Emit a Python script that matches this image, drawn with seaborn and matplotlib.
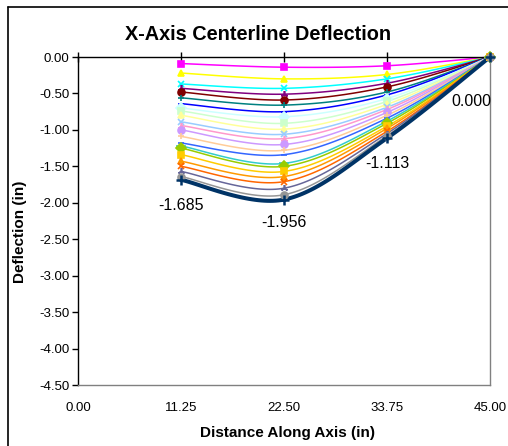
import numpy as np
import pandas as pd
import matplotlib
matplotlib.use("Agg")
import matplotlib.pyplot as plt
import seaborn as sns
from matplotlib.lines import Line2D

sns.set_style("white")
plt.rcParams["font.family"] = ["Liberation Sans", "DejaVu Sans"]
plt.rcParams["text.color"] = "black"

# stations along the axis (in)
stations = [11.25, 22.50, 33.75, 45.00]

# deflection at each station, one entry per load step (top to bottom)
defl_1125 = [-0.09, -0.22, -0.37, -0.43, -0.48, -0.56, -0.64, -0.70, -0.74, -0.80, -0.89, -0.94,
             -1.00, -1.09, -1.18, -1.22, -1.25, -1.34, -1.43, -1.50, -1.57, -1.64, -1.685]
defl_2250 = [-0.14, -0.30, -0.43, -0.51, -0.59, -0.66, -0.75, -0.82, -0.91, -0.99, -1.06, -1.12,
             -1.20, -1.28, -1.34, -1.46, -1.50, -1.57, -1.64, -1.71, -1.80, -1.89, -1.956]
defl_3375 = [-0.12, -0.24, -0.30, -0.36, -0.41, -0.48, -0.52, -0.57, -0.61, -0.65, -0.69, -0.72,
             -0.76, -0.80, -0.84, -0.88, -0.91, -0.95, -0.98, -1.02, -1.05, -1.08, -1.113]
defl_4500 = [0.0, 0.0, 0.0, 0.0, 0.0, 0.0, 0.0, 0.0, 0.0, 0.0, 0.0, 0.0,
             0.0, 0.0, 0.0, 0.0, 0.0, 0.0, 0.0, 0.0, 0.0, 0.0, 0.0]

series_colors = ["#FF00FF", "#FFFF00", "#00FFFF", "#800080", "#800000", "#008080", "#0000FF",
                 "#CCFFFF", "#CCFFCC", "#FFFF99", "#99CCFF", "#FF99CC", "#CC99FF", "#FFCC99",
                 "#3366FF", "#33CCCC", "#99CC00", "#FFCC00", "#FF9900", "#FF6600", "#666699",
                 "#969696", "#003366"]
star = (3, 2, 0)
series_markers = ["s", "^", "x", star, "o", "+", "_",
                  "D", "s", "^", "x", star, "o", "+",
                  "_", "_", "D", "s", "^", "x", star,
                  "o", "+"]

# labels on the last (largest) load step
label_text = ["-1.685", "-1.956", "-1.113", "0.000"]
label_offsets = [(0, -18.5), (0, -16.5), (0, -18), (-13.5, -32)]


def excel_smooth(xs, ys, n=40):
    # bezier smoothing like Excel's "smoothed line"
    pts = np.column_stack([xs, ys])
    out = []
    for i in range(len(pts) - 1):
        p0 = pts[max(i - 1, 0)]
        p1 = pts[i]
        p2 = pts[i + 1]
        p3 = pts[min(i + 2, len(pts) - 1)]
        c1 = p1 + (p2 - p0) / 6
        c2 = p2 - (p3 - p1) / 6
        t = np.linspace(0, 1, n)[:, None]
        seg = (1 - t) ** 3 * p1 + 3 * (1 - t) ** 2 * t * c1 + 3 * (1 - t) * t ** 2 * c2 + t ** 3 * p2
        out.append(seg if i == 0 else seg[1:])
    return np.vstack(out)


fig = plt.figure(figsize=(5.08, 4.46), dpi=100)
ax = fig.add_axes([78 / 508, 1 - 385 / 446, 412 / 508, 328 / 446])

n_series = len(series_colors)
for i in range(n_series):
    ys = [defl_1125[i], defl_2250[i], defl_3375[i], defl_4500[i]]
    curve = excel_smooth(stations, ys)
    df = pd.DataFrame({"x": curve[:, 0], "y": curve[:, 1]})
    last = i == n_series - 1
    lw = 2.9 if last else 1.1
    sns.lineplot(data=df, x="x", y="y", sort=False, estimator=None,
                 color=series_colors[i], linewidth=lw, ax=ax, zorder=2)
    ax.lines[-1].set_clip_on(False)
    m = series_markers[i]
    ms = 7 if last else 5
    mew = 1.8 if last else 1.2
    if m == "_" and i == 15:
        ms = 7
    ax.plot(stations, ys, linestyle="none", marker=m, markersize=ms,
            color=series_colors[i], markeredgecolor=series_colors[i],
            markeredgewidth=mew, clip_on=False, zorder=3)

last_vals = [defl_1125[-1], defl_2250[-1], defl_3375[-1], defl_4500[-1]]
for x, y, txt, off in zip(stations, last_vals, label_text, label_offsets):
    ax.annotate(txt, (x, y), xytext=off, textcoords="offset points",
                ha="center", va="center", fontsize=11.5, color="black")

ax.set_xlim(0, 45)
ax.set_ylim(-4.5, 0)
ax.set_xticks([0, 11.25, 22.5, 33.75, 45])
ax.set_xticklabels(["%.2f" % v for v in [0, 11.25, 22.5, 33.75, 45]])
yt = np.arange(-4.5, 0.01, 0.5)
ax.set_yticks(yt)
ax.set_yticklabels(["%.2f" % v for v in yt])

ax.tick_params(axis="x", bottom=False, top=True, labelbottom=True, labeltop=False,
               direction="inout", length=7, width=1, color="black", pad=9, labelsize=9.5,
               labelcolor="black")
ax.tick_params(axis="y", left=True, direction="out", length=4, width=1,
               color="black", pad=2, labelsize=9.5, labelcolor="black")

for side in ["top", "left"]:
    ax.spines[side].set_color("black")
    ax.spines[side].set_linewidth(1)
for side in ["bottom", "right"]:
    ax.spines[side].set_color("#808080")
    ax.spines[side].set_linewidth(1)

ax.set_xlabel("")
ax.set_ylabel("")
fig.text(288 / 508, 1 - 433 / 446, "Distance Along Axis (in)", ha="center", va="center",
         fontsize=11, fontweight="bold")
fig.text(20 / 508, 1 - 232 / 446, "Deflection (in)", ha="center", va="center",
         rotation=90, fontsize=11, fontweight="bold")
fig.text(258 / 508, 1 - 35 / 446, "X-Axis Centerline Deflection", ha="center", va="center",
         fontsize=14.3, fontweight="bold")

# chart area border
fig.add_artist(Line2D([7.5 / 508, 7.5 / 508], [0, 1 - 6.5 / 446], color="black", lw=1.2))
fig.add_artist(Line2D([7.5 / 508, 1], [1 - 6.5 / 446, 1 - 6.5 / 446], color="black", lw=1.2))

plt.savefig("out.png", dpi=100)
